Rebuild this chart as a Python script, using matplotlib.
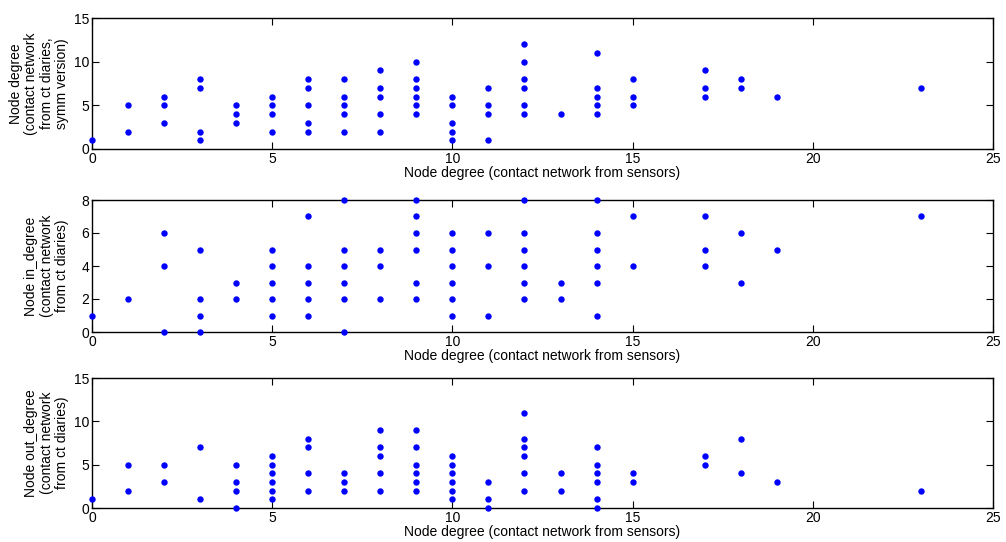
import matplotlib
matplotlib.use("Agg")
import matplotlib.pyplot as plt

plt.rcParams['font.family'] = ['Liberation Sans', 'DejaVu Sans']

# Panel 1: symmetric degree from diaries
sym_x = [0, 1, 1, 2, 2, 2, 3, 3, 3, 3, 4, 4, 4, 5, 5, 5, 5,
         6, 6, 6, 6, 6, 7, 7, 7, 7, 7, 8, 8, 8, 8, 8,
         9, 9, 9, 9, 9, 9, 10, 10, 10, 10, 10, 11, 11, 11, 11,
         12, 12, 12, 12, 12, 12, 13, 14, 14, 14, 14, 14, 15, 15, 15,
         17, 17, 17, 18, 18, 19, 23]
sym_y = [1, 5, 2, 6, 5, 3, 8, 7, 2, 1, 5, 4, 3, 6, 5, 4, 2,
         8, 7, 5, 3, 2, 8, 6, 5, 4, 2, 9, 7, 6, 4, 2,
         10, 8, 7, 6, 5, 4, 6, 5, 3, 2, 1, 7, 5, 4, 1,
         12, 10, 8, 7, 5, 4, 4, 11, 7, 6, 5, 4, 8, 6, 5,
         9, 7, 6, 8, 7, 6, 7]

# Panel 2: in-degree from diaries
in_x = [0, 1, 2, 2, 2, 3, 3, 3, 3, 4, 4, 5, 5, 5, 5, 5,
        6, 6, 6, 6, 6, 7, 7, 7, 7, 7, 7, 8, 8, 8,
        9, 9, 9, 9, 9, 9, 10, 10, 10, 10, 10, 10, 11, 11, 11,
        12, 12, 12, 12, 12, 12, 13, 13, 14, 14, 14, 14, 14, 14,
        15, 15, 17, 17, 17, 18, 18, 19, 23]
in_y = [1, 2, 6, 4, 0, 5, 2, 1, 0, 3, 2, 5, 4, 3, 2, 1,
        7, 4, 3, 2, 1, 8, 5, 4, 3, 2, 0, 5, 4, 2,
        8, 7, 6, 5, 3, 2, 6, 5, 4, 3, 2, 1, 6, 4, 1,
        8, 6, 5, 4, 3, 2, 3, 2, 8, 6, 5, 4, 3, 1,
        7, 4, 7, 5, 4, 6, 3, 5, 7]

# Panel 3: out-degree from diaries
out_x = [0, 1, 1, 2, 2, 3, 3, 4, 4, 4, 4, 5, 5, 5, 5, 5, 5,
         6, 6, 6, 6, 7, 7, 7, 8, 8, 8, 8, 8,
         9, 9, 9, 9, 9, 9, 10, 10, 10, 10, 10, 10, 11, 11, 11,
         12, 12, 12, 12, 12, 12, 13, 13, 14, 14, 14, 14, 14, 14,
         15, 15, 17, 17, 18, 18, 19, 23]
out_y = [1, 5, 2, 5, 3, 7, 1, 5, 3, 2, 0, 6, 5, 4, 3, 2, 1,
         8, 7, 4, 2, 4, 3, 2, 9, 7, 6, 4, 2,
         9, 7, 5, 4, 3, 2, 6, 5, 4, 3, 2, 1, 3, 1, 0,
         11, 8, 7, 6, 4, 2, 4, 2, 7, 5, 4, 3, 1, 0,
         4, 3, 6, 5, 8, 4, 3, 2]

xticks = [0, 5, 10, 15, 20, 25]
xlabel = "Node degree (contact network from sensors)"

panels = [
    (sym_x, sym_y, (0, 15), [0, 5, 10, 15],
     "Node degree\n(contact network\nfrom ct diaries,\nsymm version)"),
    (in_x, in_y, (0, 8), [0, 2, 4, 6, 8],
     "Node in_degree\n(contact network\nfrom ct diaries)"),
    (out_x, out_y, (0, 15), [0, 5, 10, 15],
     "Node out_degree\n(contact network\nfrom ct diaries)"),
]

W, H = 1006, 542
fig = plt.figure(figsize=(W / 100, H / 100), dpi=100)
boxes = [(18, 149), (200, 332), (378, 508)]
left, right = 92, 993

for (x, y, ylim, yt, ylab), (top, bot) in zip(panels, boxes):
    ax = fig.add_axes([left / W, 1 - bot / H, (right - left) / W, (bot - top) / H])
    ax.plot(x, y, linestyle='none', marker='o', color='#0000ff',
            markersize=4.6, markeredgewidth=0, clip_on=False, zorder=3)
    ax.set_xlim(0, 25)
    ax.set_ylim(*ylim)
    ax.set_xticks(xticks)
    ax.set_yticks(yt)
    ax.tick_params(direction='in', top=True, right=True, length=5,
                   width=0.8, labelsize=10, pad=2, color='black')
    for s in ax.spines.values():
        s.set_linewidth(1.0)
    ax.set_xlabel(xlabel, fontsize=10, labelpad=0)
    fig.text(69 / W, 1 - (top + bot) / 2 / H, ylab, rotation=90,
             ha='right', va='center', multialignment='center',
             fontsize=10, linespacing=1.12)

fig.savefig("out.png", dpi=100)
